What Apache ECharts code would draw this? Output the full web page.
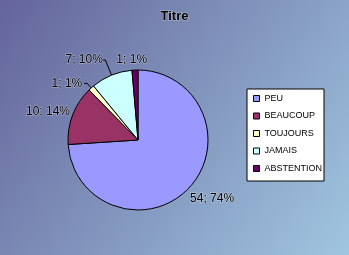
<!DOCTYPE html>
<html><head><meta charset="utf-8">
<script src="https://cdn.jsdelivr.net/npm/echarts@6/dist/echarts.min.js"></script>
<style>html,body{margin:0;padding:0;}#c{width:349px;height:255px;}</style>
</head><body><div id="c"></div>
<script>
const titleText = 'Titre';
const categories = ['PEU', 'BEAUCOUP', 'TOUJOURS', 'JAMAIS', 'ABSTENTION'];
const values = [54, 10, 1, 7, 1];
const colors = ['#9999FF', '#993366', '#FFFFCC', '#CCFFFF', '#660066'];
// label placement tuning per slice: [length, length2, distance, showLine]
const labelTune = [[16, 0, -10.7, false], [8.4, 0, -5.2, false], [6, 3, 2, true], [16.4, 2, 0.5, true], [10, 0, -12.5, false]];

const total = values.reduce((a, b) => a + b, 0);
const chart = echarts.init(document.getElementById('c'), null, {renderer: 'canvas'});
const halo = {textBorderColor: 'rgba(255,255,255,0.45)', textBorderWidth: 1};
chart.setOption({
  animation: false,
  backgroundColor: {type: 'linear', x: 0, y: 0, x2: 1, y2: 1,
    colorStops: [{offset: 0, color: '#64649a'}, {offset: 1, color: '#a0c6e0'}]},
  title: {text: titleText, left: 'center', top: 10, padding: 0,
    textStyle: Object.assign({fontFamily: 'Liberation Sans', fontSize: 13, fontWeight: 'bold', color: '#000'}, halo)},
  legend: {orient: 'vertical', left: 247, top: 89, padding: [5, 2, 8, 6], itemGap: 8.5,
    itemWidth: 6, itemHeight: 6, icon: 'rect', backgroundColor: '#fff', borderColor: '#000', borderWidth: 1,
    itemStyle: {borderColor: '#000', borderWidth: 1},
    textStyle: {fontFamily: 'Liberation Sans', fontSize: 9, color: '#000'},
    data: categories},
  series: [{
    type: 'pie', center: [138, 140], radius: 70, startAngle: 90, clockwise: true,
    avoidLabelOverlap: false,
    itemStyle: {borderColor: '#000', borderWidth: 1},
    label: Object.assign({show: true, position: 'outside', fontFamily: 'Liberation Sans', fontSize: 12, color: '#000',
      formatter: p => p.value + '; ' + Math.round(p.value / total * 100) + '%'}, halo),
    labelLine: {lineStyle: {color: '#000', width: 1}},
    emphasis: {disabled: true},
    data: categories.map((n, i) => ({
      name: n, value: values[i], itemStyle: {color: colors[i]},
      label: {distanceToLabelLine: labelTune[i][2]},
      labelLine: {show: labelTune[i][3], length: labelTune[i][0], length2: labelTune[i][1]}
    }))
  }]
});
</script></body></html>
